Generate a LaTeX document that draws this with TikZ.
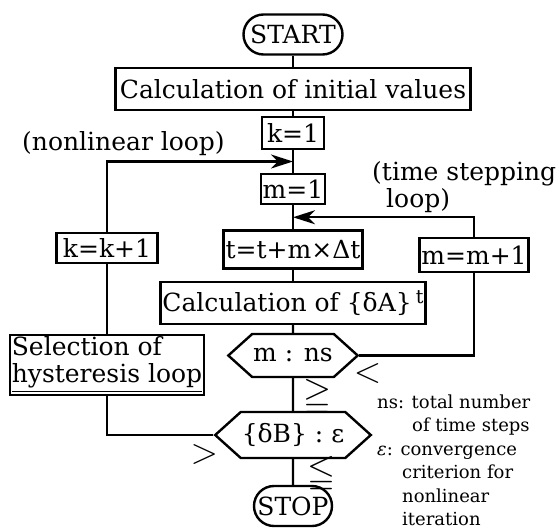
\RequirePackage{fix-cm}
\documentclass[tikz,border=0pt]{standalone}
\usepackage{amssymb}
\usepackage{fontspec}
\setmainfont{DejaVu Serif}
\usepackage{tikz}
\usetikzlibrary{positioning,arrows.meta,calc,shapes.symbols}

\begin{document}
\begin{tikzpicture}[
  x=1pt, y=-1pt,
  line width=2.4pt,
  every node/.style={font=\fontsize{25}{27}\selectfont},
  box/.style={draw, rectangle, inner sep=2pt, align=left},
  term/.style={draw, rounded corners=20pt, minimum height=40pt, minimum width=99pt, inner sep=0pt},
  test/.style={draw, signal, signal to=east and west, signal pointer angle=84, inner xsep=1pt, inner ysep=0pt},
  lbl/.style={inner sep=0pt},
  rel/.style={inner sep=0pt, font=\fontsize{36}{36}\selectfont},
  eqrel/.style={inner sep=0pt, font=\fontsize{36}{36}\selectfont},
  note/.style={font=\fontsize{18}{23.5}\selectfont, align=left, anchor=north west, inner sep=0pt},
  arr/.style={-{Stealth[length=22pt,width=14pt,inset=7pt]}},
]
\useasboundingbox (0,0) rectangle (556,530);
% main column
\node[term] (start) at (293,34.5) {START};
\node[box, minimum width=355pt, minimum height=42pt] (init) at (293,89) {Calculation of initial values};
\node[box, minimum width=62pt, minimum height=32pt] (k1) at (293,133) {k=1};
\node[box, minimum width=62pt, minimum height=30pt] (m1) at (293,189) {m=1};
\node[box, minimum width=136pt, minimum height=38pt] (tstep) at (293,249.5) {t=t+m×Δt};
\node[box, minimum width=262pt, minimum height=42pt] (calcA) at (293,303) {Calculation of \{δA\}\,\raisebox{8pt}{\fontsize{19}{19}\selectfont t}};
\node[test, minimum height=43pt] (ns) at (293,355.5) {m : ns};
\node[test, minimum height=46pt] (conv) at (293,435) {\{δB\} : ε};
\node[term, minimum width=78pt] (stop) at (293,506) {STOP};
% loops
\node[box, minimum width=101pt, minimum height=30pt] (kk1) at (107,248) {k=k+1};
\node[box, minimum width=189pt, minimum height=59pt] (sel) at (107,365) {Selection of\\\underline{hysteresis loop}};
\node[box, minimum width=101pt, minimum height=34pt] (mm1) at (474,255) {m=m+1};
\coordinate (nl) at ($(k1.south)!.5!(m1.north)$);
\coordinate (ts) at ($(m1.south)!.5!(tstep.north)$);

\draw (start) -- (init);
\draw (init) -- (k1);
\draw (k1) -- (m1);
\draw (m1) -- (tstep);
\draw (tstep) -- (calcA);
\draw (calcA) -- (ns);
\draw (ns) -- (conv);
\draw (conv) -- (stop);
\draw[arr] (kk1.north) |- (nl);
\draw (sel) -- (kk1);
\draw (conv.west) -| (sel.south);
\draw[arr] (mm1.north) |- (ts);
\draw (ns.east) -| (mm1.south);

% labels
\node[rel] (lt) at ($(ns.east)+(8,17.5)$) {$<$};
\node[eqrel, anchor=west] (ge) at ($(ns.south)!.5!(conv.north)+(9,3)$) {$\geqq$};
\node[rel] (gt) at ($(conv.west)+(-9,19.5)$) {$>$};
\node[eqrel, anchor=west] (le) at ($(conv.south)!.5!(stop.north)+(13,2)$) {$\leqq$};
\node[lbl, anchor=base west] (nll) at (21,150) {(nonlinear loop)};
\node[lbl, anchor=north west, align=left] (tsl) at (371,160) {(time stepping\\\hspace*{14pt}loop)};
\node[note] (defs) at (376,393.5) {ns: total number\\\hspace*{35pt}of time steps\\{\itshape ε}: convergence\\\hspace*{25pt}criterion for\\\hspace*{25pt}nonlinear\\\hspace*{25pt}iteration};
\end{tikzpicture}
\end{document}
